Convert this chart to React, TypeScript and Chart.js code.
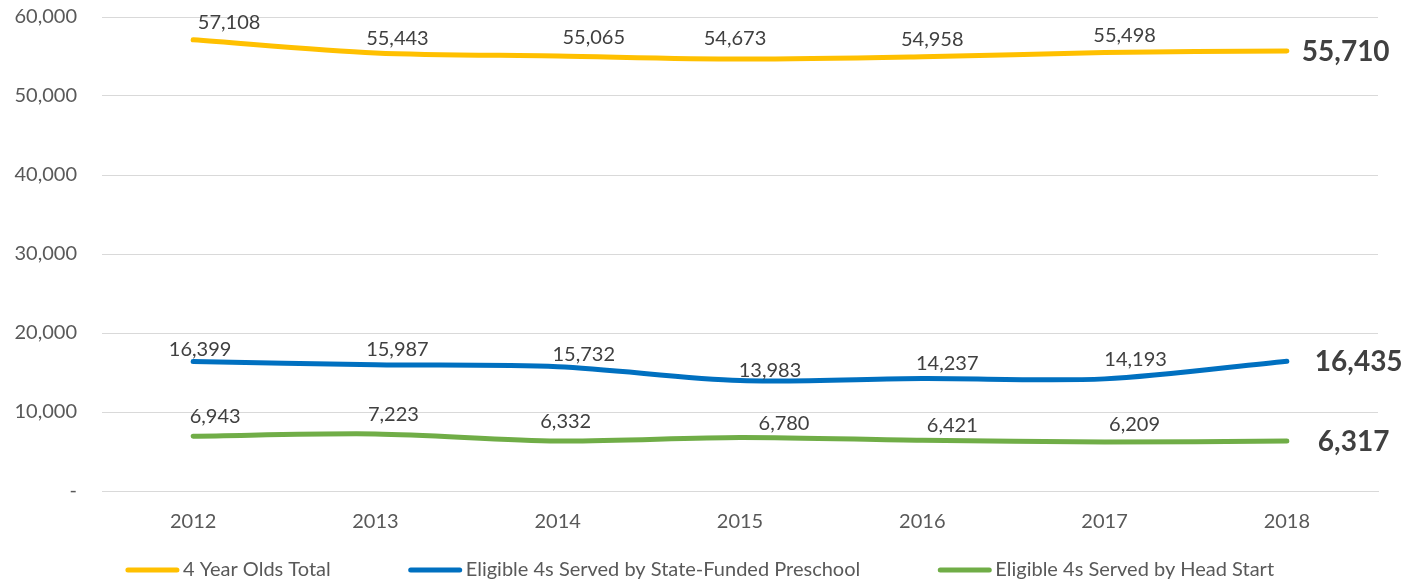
import React, { useEffect, useRef } from "react";
import { Chart, registerables } from "chart.js";

Chart.register(...registerables);

const years = ["2012", "2013", "2014", "2015", "2016", "2017", "2018"];
const totalFours = [57108, 55443, 55065, 54673, 54958, 55498, 55710];
const statePreschool = [16399, 15987, 15732, 13983, 14237, 14193, 16435];
const headStart = [6943, 7223, 6332, 6780, 6421, 6209, 6317];
const seriesNames = [
  "4 Year Olds Total",
  "Eligible 4s Served by State-Funded Preschool",
  "Eligible 4s Served by Head Start",
];
const seriesColors = ["#FFC000", "#0070C0", "#70AD47"];
const yTicks = [0, 10000, 20000, 30000, 40000, 50000, 60000];

// label placement nudges (pixels), per series
const labelDx = [
  [36, 22, 36, -5, 10, 20],
  [7, 22, 26, 30, 25, 31],
  [22, 18, 8, 44, 30, 30],
];
const labelDy = [
  [-17, -14, -18, -21, -17, -17],
  [-12, -15, -12, -10, -15, -19],
  [-20, -19, -19, -14, -15, -17],
];
const lastLabelDx = [15, 28, 31];

const FONT = "Lato, 'Open Sans', sans-serif";

const fmt = (v: number) => (v === 0 ? "-" : v.toLocaleString("en-US"));

const labelPlugin = {
  id: "pointLabels",
  afterDatasetsDraw(chart: any) {
    const ctx = chart.ctx;
    ctx.save();
    chart.data.datasets.forEach((ds: any, di: number) => {
      const meta = chart.getDatasetMeta(di);
      meta.data.forEach((pt: any, i: number) => {
        const v = ds.data[i] as number;
        const last = i === ds.data.length - 1;
        ctx.fillStyle = "#404040";
        ctx.textBaseline = "middle";
        if (last) {
          ctx.font = `bold 28px ${FONT}`;
          ctx.textAlign = "left";
          ctx.fillText(fmt(v), pt.x + lastLabelDx[di], pt.y + 1);
        } else {
          ctx.font = `20px ${FONT}`;
          ctx.textAlign = "center";
          ctx.fillText(fmt(v), pt.x + labelDx[di][i], pt.y + labelDy[di][i]);
        }
      });
    });
    ctx.restore();
  },
};

const legendPlugin = {
  id: "customLegend",
  afterDraw(chart: any) {
    const ctx = chart.ctx;
    ctx.save();
    ctx.font = `20px ${FONT}`;
    const lineW = 53;
    const gapText = 4;
    const gapItem = 78;
    const widths = chart.data.datasets.map(
      (ds: any) => lineW + gapText + ctx.measureText(ds.label).width
    );
    const total = widths.reduce((a: number, b: number) => a + b, 0) + gapItem * (widths.length - 1);
    let x = (chart.width - total) / 2 - 6;
    const y = 570;
    chart.data.datasets.forEach((ds: any, i: number) => {
      ctx.strokeStyle = ds.borderColor;
      ctx.lineWidth = 5;
      ctx.lineCap = "round";
      ctx.beginPath();
      ctx.moveTo(x + 2, y);
      ctx.lineTo(x + lineW - 2, y);
      ctx.stroke();
      ctx.fillStyle = "#595959";
      ctx.textAlign = "left";
      ctx.textBaseline = "middle";
      ctx.fillText(ds.label, x + lineW + gapText, y);
      x += widths[i] + gapItem;
    });
    ctx.restore();
  },
};

export default function App() {
  const ref = useRef<HTMLCanvasElement | null>(null);
  useEffect(() => {
    if (!ref.current) return;
    const data = [totalFours, statePreschool, headStart];
    const chart = new Chart(ref.current, {
      type: "line",
      data: {
        labels: years,
        datasets: data.map((d, i) => ({
          label: seriesNames[i],
          data: d,
          borderColor: seriesColors[i],
          backgroundColor: seriesColors[i],
          borderWidth: 5,
          pointRadius: 0,
          tension: 0.3,
          borderCapStyle: "round" as const,
          fill: false,
        })),
      },
      options: {
        animation: false,
        responsive: true,
        maintainAspectRatio: false,
        layout: { padding: { top: 17, right: 34, left: 0, bottom: 33 } },
        plugins: {
          legend: { display: false },
          tooltip: { enabled: false },
        },
        scales: {
          x: {
            offset: true,
            grid: { display: false, drawTicks: false },
            border: { display: true, color: "#D9D9D9" },
            ticks: {
              color: "#595959",
              font: { family: FONT, size: 20 },
              padding: 19,
            },
            afterFit: (s: any) => {
              s.height = 60;
              s.paddingLeft = 0;
              s.paddingRight = 0;
            },
          },
          y: {
            min: 0,
            max: 60000,
            afterBuildTicks: (s: any) => {
              s.ticks = yTicks.map((v) => ({ value: v }));
            },
            grid: { color: "#D9D9D9", drawTicks: false },
            border: { display: false },
            ticks: {
              color: "#595959",
              font: { family: FONT, size: 20 },
              padding: 25,
              callback: (v: any) => fmt(Number(v)),
            },
            afterFit: (s: any) => {
              s.width = 102;
              s.paddingTop = 0;
              s.paddingBottom = 0;
            },
          },
        },
      },
      plugins: [labelPlugin, legendPlugin],
    });
    return () => chart.destroy();
  }, []);
  return (
    <div style={{ position: "fixed", left: 0, top: 0, width: 1412, height: 584, background: "#fff" }}>
      <canvas ref={ref} />
    </div>
  );
}
